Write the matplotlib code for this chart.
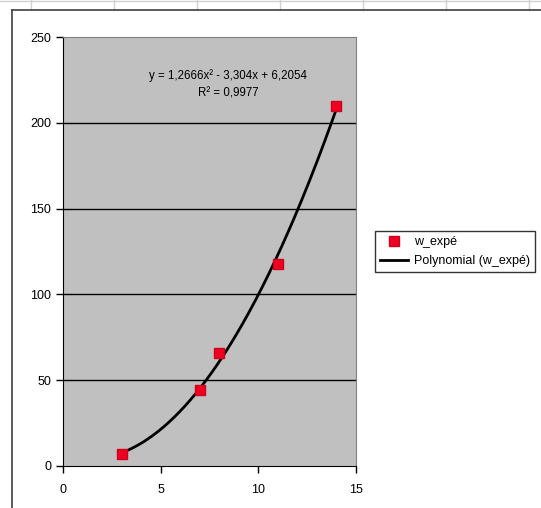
import numpy as np
import matplotlib
matplotlib.use("Agg")
import matplotlib.pyplot as plt
from matplotlib.lines import Line2D

plt.rcParams['font.family'] = ['Liberation Sans', 'DejaVu Sans']

# Data
x_vals = [3, 7, 8, 11, 14]
y_vals = [7, 44, 66, 118, 210]
trend_coeffs = [1.2666, -3.304, 6.2054]
series_name = "w_expé"
trend_name = "Polynomial (w_expé)"
eq_text = "y = 1,2666x² - 3,304x + 6,2054"
r2_text = "R² = 0,9977"
x_ticks = [0, 5, 10, 15]
y_ticks = [0, 50, 100, 150, 200, 250]

W, H = 541, 508
fig = plt.figure(figsize=(W / 100, H / 100), dpi=100)
fig.patch.set_facecolor('white')

# spreadsheet background lines
for xp in [31, 114, 197, 280, 363, 446, 529]:
    fig.add_artist(Line2D([xp / W, xp / W], [1, 1 - 10 / H], color='#d0d0d0', lw=1))
fig.add_artist(Line2D([0, 1], [1 - 1 / H, 1 - 1 / H], color='#d0d0d0', lw=1))
# chart area border
fig.add_artist(Line2D([12 / W, 12 / W], [0, 1 - 10 / H], color='#404040', lw=1.2))
fig.add_artist(Line2D([12 / W, 1], [1 - 10 / H, 1 - 10 / H], color='#404040', lw=1.2))

left, right = 63 / W, 356 / W
bottom, top = 42 / H, 471 / H
ax = fig.add_axes([left, bottom, right - left, top - bottom])
ax.set_facecolor('#c0c0c0')

ax.set_xlim(0, 15)
ax.set_ylim(0, 250)
ax.set_xticks(x_ticks)
ax.set_yticks(y_ticks)

for yv in y_ticks[1:-1]:
    ax.axhline(yv, color='black', lw=1, zorder=1)

xs = np.linspace(min(x_vals), max(x_vals), 200)
ys = np.polyval(trend_coeffs, xs)
ax.plot(xs, ys, color='black', lw=2, zorder=3)
ax.plot(x_vals, y_vals, linestyle='none', marker='s', markersize=6.5,
        markerfacecolor='#ee0022', markeredgecolor='#d00018', zorder=4)

for s in ['top', 'right']:
    ax.spines[s].set_color('#808080')
for s in ['left', 'bottom']:
    ax.spines[s].set_color('black')
ax.tick_params(axis='both', direction='out', length=5, width=1, labelsize=9,
               colors='black')
ax.tick_params(axis='x', pad=8)

ax.text(0.563, 0.911, eq_text, transform=ax.transAxes, ha='center', va='center', fontsize=8.3)
ax.text(0.563, 0.869, r2_text, transform=ax.transAxes, ha='center', va='center', fontsize=8.3)

handles = [
    Line2D([], [], linestyle='none', marker='s', markersize=6.5,
           markerfacecolor='#ee0022', markeredgecolor='#d00018'),
    Line2D([], [], color='black', lw=2),
]
leg = fig.legend(handles, [series_name, trend_name],
                 loc='upper left', bbox_to_anchor=(375 / W, 1 - 231 / H),
                 frameon=True, fancybox=False, fontsize=9,
                 handlelength=2.2, handletextpad=0.5, borderpad=0.4,
                 labelspacing=0.55, borderaxespad=0)
leg.get_frame().set_edgecolor('black')
leg.get_frame().set_linewidth(1)

fig.savefig('out.png', dpi=100)
